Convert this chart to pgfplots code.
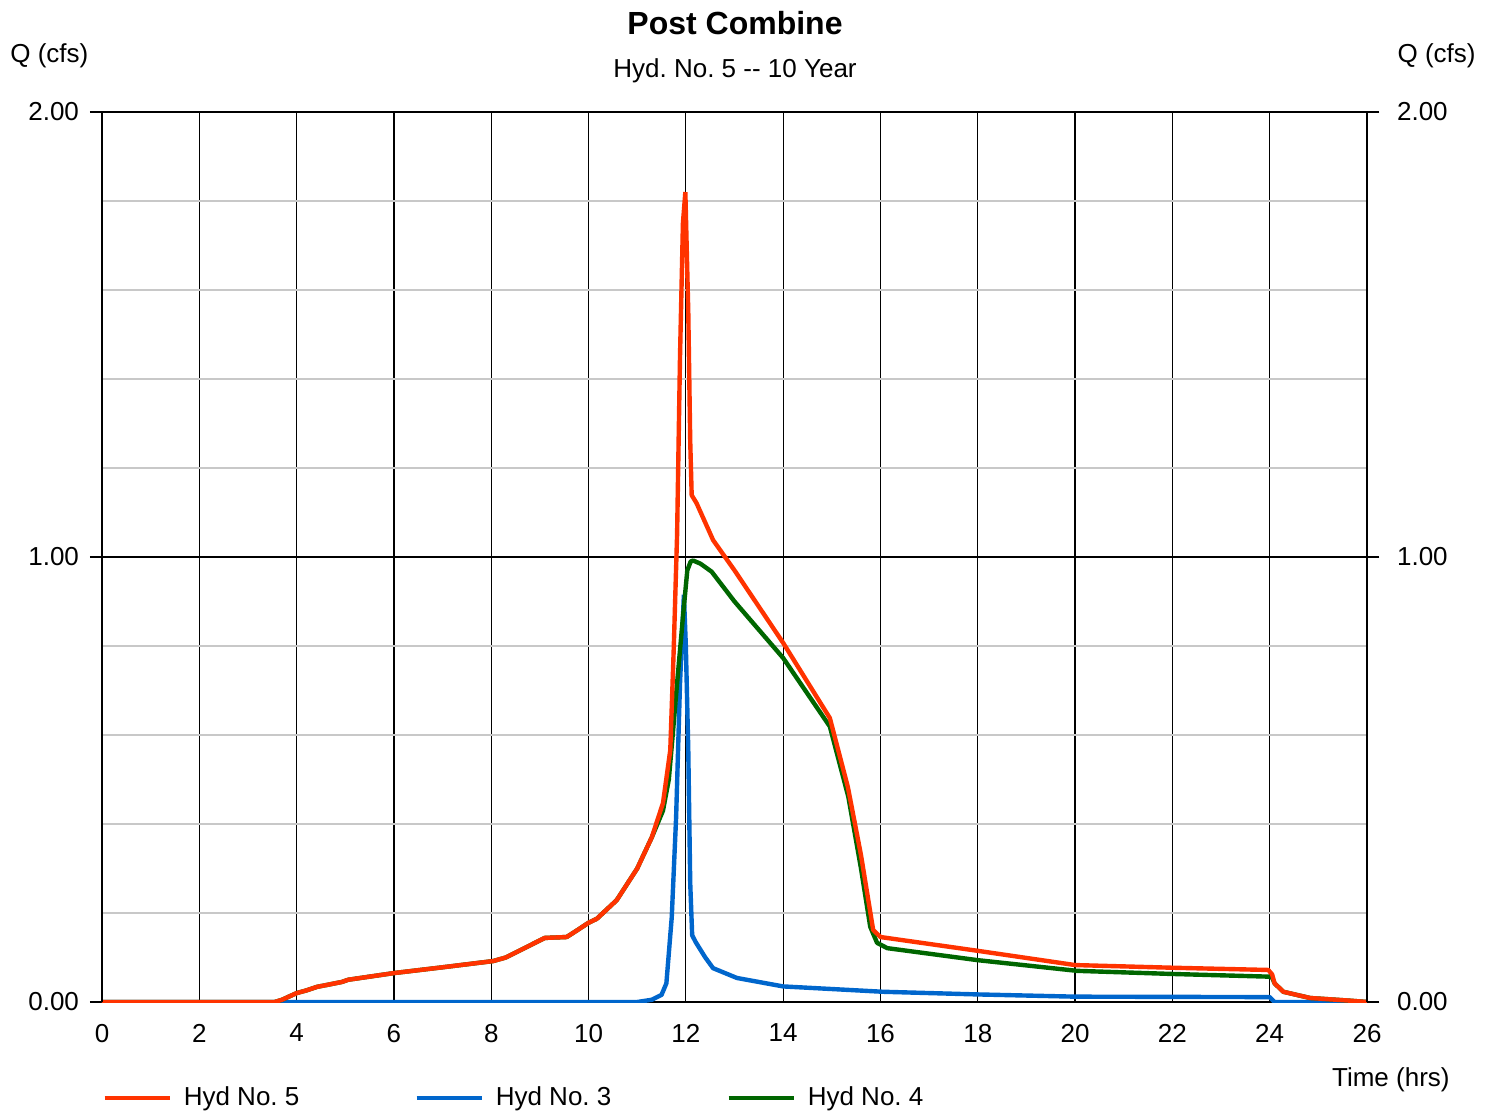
\documentclass[border=0pt]{standalone}
\usepackage{fontspec}
\setmainfont{Liberation Sans}
\usepackage{pgfplots}
\pgfplotsset{compat=1.18}
\definecolor{hydred}{HTML}{FF3300}
\definecolor{hydblue}{HTML}{0066CC}
\definecolor{hydgreen}{HTML}{006600}
\definecolor{minorgrid}{HTML}{C8C8C8}
\frenchspacing

\begin{document}
\begin{tikzpicture}[font=\fontsize{13}{15}\selectfont]
% page frame in pixel units of the reference (1494 x 1114)
\begin{scope}[x=0.5pt,y=-0.5pt,shift={(-51pt,501pt)}]
  \path[use as bounding box] (0,0) rectangle (1494,1114);
\end{scope}

\begin{axis}[
    at={(0,0)}, anchor=south west,
    width=632.5pt, height=445pt, scale only axis,
    xmin=0, xmax=26, ymin=0, ymax=2,
    xtick={0,2,...,26},
    ytick={0,1,2},
    minor ytick={0.2,0.4,0.6,0.8,1.2,1.4,1.6,1.8},
    grid=both,
    major grid style={black, line width=0.6pt},
    minor grid style={minorgrid, line width=1pt},
    axis line style={black, line width=0.6pt},
    tick align=outside,
    major tick length=6pt, minor tick length=0pt,
    ytick pos=both,
    xtick style={draw=none},
    ytick style={black, line width=0.6pt},
    yticklabel pos=left,
    yticklabel={\pgfmathprintnumber[fixed,fixed zerofill,precision=2]{\tick}},
    /pgf/number format/assume math mode=true,
    yticklabel style={xshift=-2pt},
    xticklabel style={yshift=-1.5pt},
    legend columns=3,
    legend style={draw=none, fill=none, at={(0,-0.1079)}, anchor=west,
                  inner sep=0pt, column sep=0pt,
                  /tikz/every odd column/.append style={column sep=4pt},
                  /tikz/every even column/.append style={column sep=55.5pt}},
    legend cell align=left,
    legend image code/.code={\draw[#1] (0pt,0pt) -- (32.5pt,0pt);},
    every axis plot/.append style={line width=2.2pt, line join=bevel},
]
\addlegendimage{hydred, line width=2.2pt}
\addlegendentry{Hyd No. 5}
\addlegendimage{hydblue, line width=2.2pt}
\addlegendentry{Hyd No. 3}
\addlegendimage{hydgreen, line width=2.2pt}
\addlegendentry{Hyd No. 4}

% Hyd No. 3
\addplot[hydblue, forget plot] coordinates {
    (0,0) (11.0,0) (11.3,0.005) (11.5,0.016) (11.6,0.042) (11.71,0.19)
    (11.8,0.415) (11.88,0.716) (11.96,0.915) (12.0,0.80) (12.05,0.566)
    (12.09,0.267) (12.13,0.15) (12.2,0.135) (12.4,0.10) (12.56,0.076)
    (13.05,0.054) (14.0,0.035) (16.05,0.023) (18,0.017) (20,0.012)
    (24,0.011) (24.1,0) (26,0)
};
% Hyd No. 4
\addplot[hydgreen, forget plot] coordinates {
    (0,0) (3.55,0) (3.7,0.005) (4.0,0.02) (4.2,0.026) (4.42,0.034)
    (4.93,0.045) (5.06,0.05) (6.0,0.065) (7.0,0.078) (8.04,0.092)
    (8.3,0.10) (9.1,0.144) (9.55,0.146) (9.75,0.16) (10.0,0.178)
    (10.17,0.187) (10.58,0.229) (11.0,0.30) (11.3,0.37) (11.53,0.43)
    (11.65,0.50) (11.73,0.60) (11.82,0.716) (11.94,0.865) (12.03,0.97)
    (12.1,0.99) (12.15,0.992) (12.3,0.985) (12.53,0.967) (13.0,0.90)
    (14.0,0.773) (14.96,0.619) (15.34,0.461) (15.6,0.30) (15.79,0.169)
    (15.93,0.133) (16.14,0.121) (18,0.094) (20.04,0.070) (22,0.063)
    (23.97,0.057) (24.05,0.055) (24.1,0.042) (24.28,0.023) (24.83,0.009)
    (25.65,0.003) (26,0)
};
% Hyd No. 5
\addplot[hydred, forget plot] coordinates {
    (0,0) (3.55,0) (3.7,0.005) (4.0,0.02) (4.2,0.026) (4.42,0.034)
    (4.93,0.045) (5.06,0.05) (6.0,0.065) (7.0,0.078) (8.04,0.092)
    (8.3,0.10) (9.1,0.144) (9.55,0.146) (9.75,0.16) (10.0,0.178)
    (10.17,0.187) (10.58,0.229) (11.0,0.30) (11.3,0.37) (11.53,0.447)
    (11.68,0.566) (11.75,0.79) (11.82,1.05) (11.88,1.45) (11.94,1.75)
    (11.99,1.82) (12.05,1.55) (12.09,1.26) (12.12,1.139) (12.22,1.121)
    (12.56,1.038) (13.0,0.97) (14.0,0.807) (14.96,0.638) (15.33,0.483)
    (15.6,0.33) (15.85,0.162) (16.0,0.146) (18,0.115) (20,0.083)
    (22,0.077) (23.97,0.072) (24.05,0.062) (24.1,0.042) (24.28,0.023)
    (24.83,0.009) (25.65,0.003) (26,0)
};
\end{axis}

% right-hand value scale
\begin{axis}[
    at={(0,0)}, anchor=south west,
    width=632.5pt, height=445pt, scale only axis,
    xmin=0, xmax=26, ymin=0, ymax=2,
    hide x axis,
    axis line style={black, line width=0.6pt},
    ytick={0,1,2},
    tick align=outside, major tick length=6pt,
    ytick style={black, line width=0.6pt},
    ytick pos=right, yticklabel pos=right,
    yticklabel={\pgfmathprintnumber[fixed,fixed zerofill,precision=2]{\tick}},
    /pgf/number format/assume math mode=true,
    yticklabel style={xshift=5.5pt},
]
\end{axis}

\begin{scope}[x=0.5pt,y=-0.5pt,shift={(-51pt,501pt)}]
  \node[font=\fontsize{16}{19}\selectfont\bfseries] at (735,23) {Post Combine};
  \node at (735,71) {Hyd. No. 5 -\kern0pt- 10 Year};
  \node[anchor=west, inner sep=0pt] at (10,56) {Q (cfs)};
  \node[anchor=east, inner sep=0pt] at (1476,56) {Q (cfs)};
  \node[anchor=east, inner sep=0pt] at (1450,1080) {Time (hrs)};
\end{scope}
\end{tikzpicture}
\end{document}
